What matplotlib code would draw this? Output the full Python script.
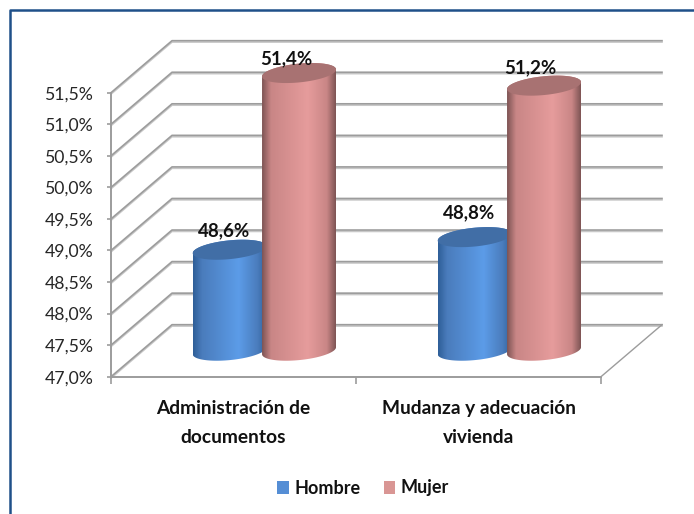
import matplotlib
matplotlib.use("Agg")
import matplotlib.pyplot as plt
import matplotlib.patheffects as pe
from matplotlib.colors import LinearSegmentedColormap
from matplotlib.patches import Patch, Polygon
import numpy as np

categories = ["Administración de\ndocumentos", "Mudanza y adecuación\nvivienda"]
hombre = [48.6, 48.8]
mujer = [51.4, 51.2]
y_ticks = [47.0, 47.5, 48.0, 48.5, 49.0, 49.5, 50.0, 50.5, 51.0, 51.5]

plt.rcParams["font.family"] = ["Lato", "DejaVu Sans"]

W, H = 694, 514
fig = plt.figure(figsize=(W / 100, H / 100), dpi=100)
ax = fig.add_axes([111 / W, (H - 376.7) / H, 490 / W, 284 / H])
ax.set_xlim(0, 2)
ax.set_ylim(47, 51.5)
ax.patch.set_visible(False)

# size of one data unit in pixels, the fake 3D depth is worked out from these
sx = 490 / 2
sy = 284 / 4.5
dx = 61 / sx
dy = 52 / sy

GRID = "#9c9c9c"
shadow = [pe.SimpleLineShadow(offset=(0, -1), shadow_color="#c8c8c8", alpha=1), pe.Normal()]

# back wall, side wall and floor edge
for v in y_ticks:
    ax.plot([0, dx, 2 + dx], [v, v + dy, v + dy], color=GRID, lw=1.2, clip_on=False,
            zorder=1, path_effects=shadow)
ax.plot([2, 2 + dx], [47, 47 + dy], color=GRID, lw=1.0, clip_on=False, zorder=1)


def cylinder(x, value, dark, light, edge, top, z):
    # centre sits half way into the depth of the box
    cx = x + dx / 2
    y0 = 47 + dy / 2
    y1 = value + dy / 2
    a = 0.151
    b = 9.4 / sy
    k = 3.5 / sy
    t = np.linspace(0, 2 * np.pi, 121)
    ex = a * np.cos(t)
    ey = b * np.sin(t) + k * np.cos(t)
    # outline of the body: lower half at the bottom, then across the top
    low = t[60:121]
    body_x = np.r_[cx + a * np.cos(low), cx + a * np.cos(t[:61])]
    body_y = np.r_[y0 + b * np.sin(low) + k * np.cos(low), y1 + b * np.sin(t[:61]) + k * np.cos(t[:61])]
    body = Polygon(np.c_[body_x, body_y], closed=True, fc="none", ec="none",
                   transform=ax.transData, clip_on=False)
    ax.add_patch(body)
    cmap = LinearSegmentedColormap.from_list("c", [(0, edge), (0.12, dark), (0.62, light), (0.88, dark), (1, edge)])
    im = ax.imshow(np.linspace(0, 1, 128).reshape(1, -1), cmap=cmap, aspect="auto",
                   extent=[cx - a, cx + a, 46.5, y1 + 1], zorder=z, interpolation="bilinear")
    im.set_clip_box(fig.bbox)
    im.set_clip_path(body)
    ax.add_patch(Polygon(np.c_[cx + ex, y1 + ey], closed=True, fc=top, ec="none",
                         clip_on=False, zorder=z + 0.1))
    ax.set_xlim(0, 2)
    ax.set_ylim(47, 51.5)


blue = ("#4a7cbc", "#5c9ce8", "#2f5f98", "#416ea6")
red = ("#c98686", "#e69c9c", "#7f5555", "#a87272")
blue_off = [(-6, 19), (-6, 24)]
red_off = [(-13, 14), (-14, 18)]
for i in range(len(categories)):
    cylinder(i + 0.36, hombre[i], *blue, 3)
    cylinder(i + 0.643, mujer[i], *red, 4)
    for x, v, off in ((i + 0.36, hombre[i], blue_off[i]), (i + 0.643, mujer[i], red_off[i])):
        ax.annotate(f"{v:.1f}%".replace(".", ","), (x + dx / 2, v + dy / 2),
                    xytext=(off[0] * 0.72, off[1] * 0.72), textcoords="offset points",
                    ha="center", va="center", fontsize=13.5, fontweight="bold",
                    color="#111111", zorder=6, annotation_clip=False)

# axes
for s in ("top", "right"):
    ax.spines[s].set_visible(False)
for s in ("left", "bottom"):
    ax.spines[s].set_color(GRID)
    ax.spines[s].set_linewidth(1.4)
    ax.spines[s].set_zorder(2)
ax.set_yticks(y_ticks)
ax.set_yticklabels([f"{v:.1f}%".replace(".", ",") for v in y_ticks], fontsize=12.7, color="#262626")
ax.tick_params(axis="y", length=3, width=1.2, color=GRID, pad=9.5)
ax.set_xticks([0.5, 1.5])
ax.set_xticklabels(categories, fontsize=13.8, fontweight="bold", color="#111111", linespacing=1.88)
ax.tick_params(axis="x", which="major", length=0, pad=16.5)
ax.set_xticks([0, 1, 2], minor=True)
ax.tick_params(axis="x", which="minor", length=5, width=1.2, color=GRID)

handles = [Patch(fc="#558ed5", label="Hombre"), Patch(fc="#d99694", label="Mujer")]
fig.legend(handles=handles, loc="center", bbox_to_anchor=(363 / W, (H - 488) / H), ncol=2, frameon=False,
           handlelength=0.62, handleheight=0.72, handletextpad=0.3, columnspacing=1.3,
           prop={"weight": "bold", "size": 13}, labelcolor="#111111")

# the frame only shows on the left and top
frame = "#1f5089"
fig.add_artist(plt.Line2D([10 / W, 10 / W, 1], [0, (H - 10) / H, (H - 10) / H], color=frame, lw=1.8))

fig.savefig("out.png", dpi=100)
